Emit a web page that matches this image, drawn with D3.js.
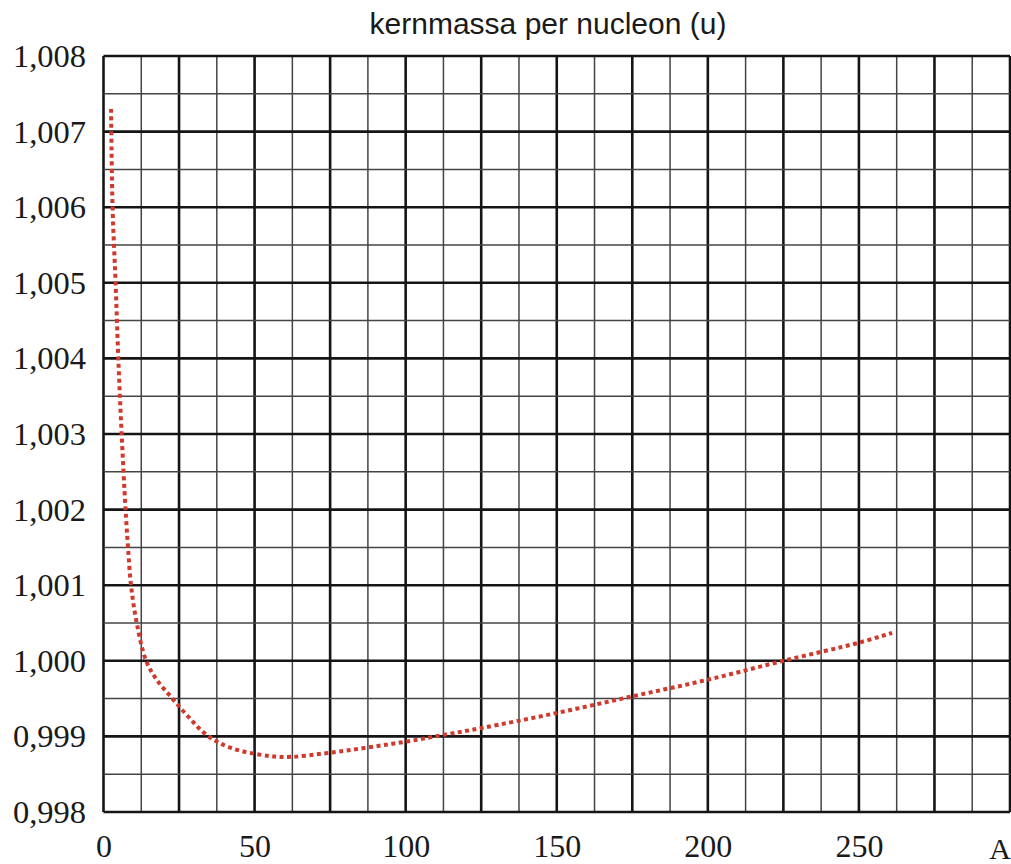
<!DOCTYPE html>
<html>
<head>
<meta charset="utf-8">
<script src="https://cdn.jsdelivr.net/npm/d3@7"></script>
<style>
  html, body { margin: 0; padding: 0; background: #ffffff; }
  svg { display: block; }
</style>
</head>
<body>
<svg id="chart" width="1011" height="864"></svg>
<script>
// ---- data ----
const massNumbers = [2.5, 3.0, 4.0, 4.9, 6.0, 7.3, 8.1, 9.1, 11.0, 14.1, 17.6, 22.6, 28.3, 34.1, 42, 55, 62, 75, 100, 112.5, 125, 150, 175, 200, 225, 250, 261];
const massPerNucleon = [1.0073, 1.0060, 1.0050, 1.0040, 1.0030, 1.0020, 1.00151, 1.0010, 1.0005, 1.0000, 0.99975, 0.99951, 0.99925, 0.99902, 0.99885, 0.99874, 0.99873, 0.998785, 0.99893, 0.99902, 0.99911, 0.99931, 0.99953, 0.99975, 1.0000, 1.00024, 1.00037];
const xTickValues = [0, 50, 100, 150, 200, 250];
const yTickValues = [0.998, 0.999, 1.000, 1.001, 1.002, 1.003, 1.004, 1.005, 1.006, 1.007, 1.008];
const titleText = "kernmassa per nucleon (u)";
const xAxisLabel = "A";

// ---- layout ----
const svg = d3.select("#chart");
const plotLeft = 103.5, plotRight = 1010, plotTop = 56, plotBottom = 812;

const x = d3.scaleLinear().domain([0, 300]).range([plotLeft, plotRight]);
const y = d3.scaleLinear().domain([0.998, 1.008]).range([plotBottom, plotTop]);

const nl = d3.formatLocale({decimal: ",", thousands: ".", grouping: [3], currency: ["", ""]});
const fmtY = nl.format(".3f");

// ---- grid ----
const grid = svg.append("g");
const xMinor = d3.range(0, 300.001, 12.5);
const yMinor = d3.range(0, 20.001, 1).map(i => 0.998 + i * 0.0005);

xMinor.forEach((v, i) => {
  const thick = i % 2 === 0;
  grid.append("line")
    .attr("x1", x(v)).attr("x2", x(v))
    .attr("y1", y(1.008)).attr("y2", y(0.998))
    .attr("stroke", thick ? "#151515" : "#444")
    .attr("stroke-width", thick ? 2.6 : 1.5);
});
yMinor.forEach((v, i) => {
  const thick = i % 2 === 0;
  grid.append("line")
    .attr("x1", x(0)).attr("x2", x(300))
    .attr("y1", y(v)).attr("y2", y(v))
    .attr("stroke", thick ? "#151515" : "#444")
    .attr("stroke-width", thick ? 2.6 : 1.5);
});

// ---- axes (labels only) ----
const xAxis = d3.axisBottom(x).tickValues(xTickValues).tickSize(0).tickPadding(0).tickFormat(d3.format("d"));
const gx = svg.append("g").attr("transform", `translate(0,${plotBottom})`).call(xAxis);
gx.select(".domain").remove();
gx.selectAll("text")
  .attr("y", 45).attr("dy", null)
  .attr("font-family", "Liberation Serif, DejaVu Serif, serif")
  .attr("font-size", 32).attr("fill", "#1a1a1a");

const yAxis = d3.axisLeft(y).tickValues(yTickValues).tickSize(0).tickPadding(0).tickFormat(fmtY);
const gy = svg.append("g").attr("transform", `translate(86,0)`).call(yAxis);
gy.select(".domain").remove();
gy.selectAll("text")
  .attr("x", 0).attr("dy", "0.32em")
  .attr("font-family", "Liberation Serif, DejaVu Serif, serif")
  .attr("font-size", 32.5).attr("fill", "#1a1a1a");

svg.append("text")
  .attr("x", 1000).attr("y", 859)
  .attr("text-anchor", "middle")
  .attr("font-family", "Liberation Serif, DejaVu Serif, serif")
  .attr("font-size", 30).attr("fill", "#1a1a1a")
  .text(xAxisLabel);

// ---- title ----
svg.append("text")
  .attr("x", 548).attr("y", 34)
  .attr("text-anchor", "middle")
  .attr("font-family", "Liberation Sans, Arial, sans-serif")
  .attr("font-size", 30).attr("fill", "#1a1a1a")
  .text(titleText);

// ---- curve ----
const pts = massNumbers.map((a, i) => [a, massPerNucleon[i]]);
const line = d3.line().x(d => x(d[0])).y(d => y(d[1])).curve(d3.curveCatmullRom.alpha(0.5));
svg.append("path")
  .datum(pts)
  .attr("d", line)
  .attr("fill", "none")
  .attr("stroke", "#d0392b")
  .attr("stroke-width", 4)
  .attr("stroke-dasharray", "4 3.5");
</script>
</body>
</html>
